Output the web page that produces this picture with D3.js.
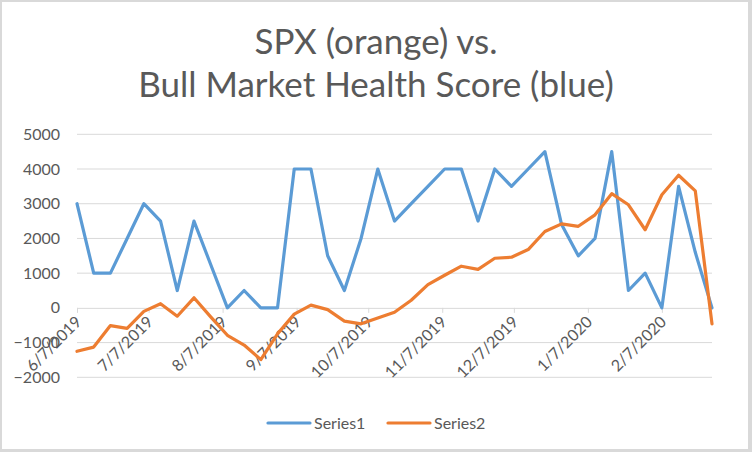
<!doctype html>
<html>
<head>
  <meta charset="utf-8">
  <title>SPX vs Bull Market Health Score</title>
  <script src="https://d3js.org/d3.v7.min.js"></script>
  <style>
    body { margin:0; background:#fff; }
    svg { display:block; font-family:Lato, "Open Sans", sans-serif; }
    .lbl { fill:#595959; }
  </style>
</head>
<body>
  <svg id="chart" width="752" height="452"></svg>

  <script>
    // weekly dates
    const dates = [
      "2019-06-07","2019-06-14","2019-06-21","2019-06-28",
      "2019-07-05","2019-07-12","2019-07-19","2019-07-26",
      "2019-08-02","2019-08-09","2019-08-16","2019-08-23","2019-08-30",
      "2019-09-06","2019-09-13","2019-09-20","2019-09-27",
      "2019-10-04","2019-10-11","2019-10-18","2019-10-25",
      "2019-11-01","2019-11-08","2019-11-15","2019-11-22","2019-11-29",
      "2019-12-06","2019-12-13","2019-12-20","2019-12-27",
      "2020-01-03","2020-01-10","2020-01-17","2020-01-24","2020-01-31",
      "2020-02-07","2020-02-14","2020-02-21","2020-02-28"
    ];
    // Series1 = health score (blue)
    const series1 = [3000,1000,1000,2000,3000,2500,500,2500,1250,0,500,0,0,
                     4000,4000,1500,500,2000,4000,2500,3000,3500,4000,4000,
                     2500,4000,3500,4000,4500,2400,1500,2000,4500,500,1000,
                     0,3500,1600,0];
    // Series2 = SPX (orange)
    const series2 = [-1250,-1130,-510,-590,-100,120,-240,290,-260,-790,-1070,
                     -1490,-750,-180,80,-50,-380,-460,-290,-125,220,670,940,
                     1200,1110,1430,1460,1680,2200,2420,2350,2680,3290,2970,
                     2250,3260,3820,3370,-460];
    const xTickLabels = ["6/7/2019","7/7/2019","8/7/2019","9/7/2019","10/7/2019",
                         "11/7/2019","12/7/2019","1/7/2020","2/7/2020"];
    const yTicks = [-2000,-1000,0,1000,2000,3000,4000,5000];
    const seriesNames = ["Series1","Series2"];
    const colors = ["#5b9bd5","#ed7d31"];

    const svg = d3.select("#chart");
    const parseD = d3.utcParse("%Y-%m-%d");
    const parseL = d3.utcParse("%m/%d/%Y");

    // border
    svg.append("rect").attr("width",752).attr("height",452).attr("fill","#d9d9d9");
    svg.append("rect").attr("x",2).attr("y",2).attr("width",746).attr("height",447).attr("fill","#fff");

    const x = d3.scaleUtc()
      .domain(d3.extent(dates, parseD))
      .range([77, 712]);
    const y = d3.scaleLinear()
      .domain([-2000, 5000])
      .range([377.3, 134.3]);

    // title
    const title = svg.append("text").attr("class","lbl")
      .attr("text-anchor","middle").style("font-size","35px");
    title.append("tspan").attr("x",376).attr("y",54).text("SPX (orange) vs.");
    title.append("tspan").attr("x",376).attr("y",97).text("Bull Market Health Score (blue)");

    // gridlines
    svg.append("g").selectAll("line")
      .data(yTicks.filter(d => d !== 0))
      .join("line")
      .attr("x1",77).attr("x2",712)
      .attr("y1",d => y(d)).attr("y2",d => y(d))
      .attr("stroke","#d9d9d9").attr("stroke-width",1);

    // y axis labels
    const yAxis = svg.append("g")
      .attr("transform","translate(60,0)")
      .call(d3.axisLeft(y).tickValues(yTicks).tickSize(0).tickPadding(0).tickFormat(d3.format("d")));
    yAxis.select(".domain").remove();
    yAxis.selectAll("text").attr("class","lbl").style("font-size","16px")
      .style("font-family","Lato, sans-serif");

    // x axis at zero
    const xAxis = svg.append("g")
      .attr("transform",`translate(0,${y(0)})`)
      .call(d3.axisBottom(x)
        .tickValues(xTickLabels.map(parseL))
        .tickSize(5)
        .tickFormat((d,i) => xTickLabels[i]));
    xAxis.select(".domain").attr("stroke","#d9d9d9").attr("d",`M77,0.5H712`);
    xAxis.selectAll(".tick line").attr("stroke","#d9d9d9");
    xAxis.selectAll(".tick text")
      .attr("class","lbl")
      .style("font-size","16px")
      .style("font-family","Lato, sans-serif")
      .attr("text-anchor","end")
      .attr("dy",null)
      .attr("y",0)
      .attr("transform","translate(5,15) rotate(-45)");

    // lines
    const line = d3.line()
      .x((d,i) => x(parseD(dates[i])))
      .y(d => y(d));
    [series1, series2].forEach((s, k) => {
      svg.append("path")
        .datum(s)
        .attr("d", line)
        .attr("fill","none")
        .attr("stroke", colors[k])
        .attr("stroke-width",3.2)
        .attr("stroke-linejoin","round")
        .attr("stroke-linecap","round");
    });

    // legend
    const legX = [268, 388];
    const leg = svg.append("g");
    seriesNames.forEach((n, k) => {
      leg.append("line")
        .attr("x1",legX[k]).attr("x2",legX[k]+42)
        .attr("y1",423).attr("y2",423)
        .attr("stroke",colors[k]).attr("stroke-width",3.2)
        .attr("stroke-linecap","round");
      leg.append("text").attr("class","lbl")
        .attr("x",legX[k]+46).attr("y",428.5)
        .style("font-size","16px")
        .text(n);
    });
  </script>
</body>
</html>
